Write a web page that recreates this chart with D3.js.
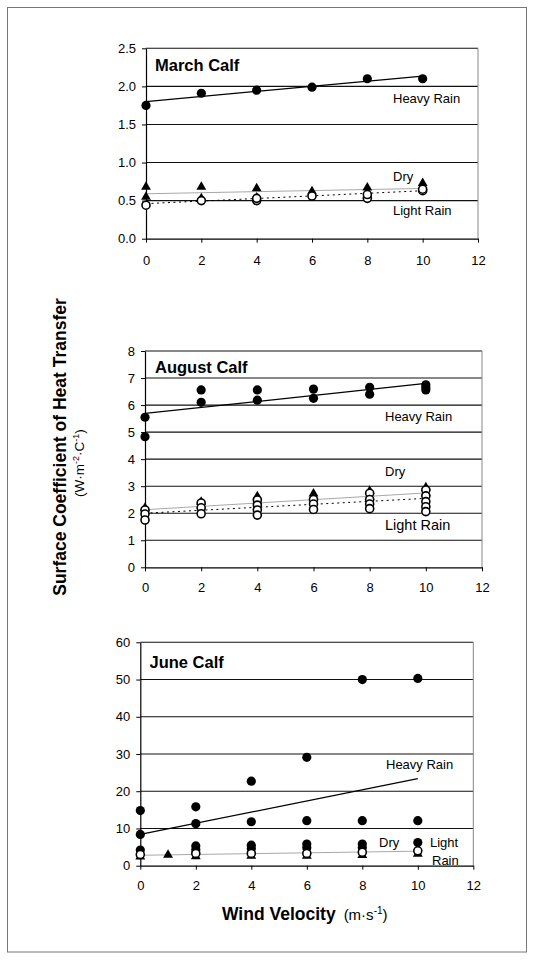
<!DOCTYPE html>
<html><head><meta charset="utf-8">
<script src="https://cdn.jsdelivr.net/npm/d3@7"></script>
<style>html,body{margin:0;padding:0;background:#fff;} svg{display:block;font-family:"Liberation Sans",Arial,sans-serif;}</style>
</head><body><svg id="c" width="534" height="961"></svg>
<script>
// ---------- data ----------
const xTickValues = [0, 2, 4, 6, 8, 10, 12];
const marchYTicks = [0, 0.5, 1.0, 1.5, 2.0, 2.5];
const augustYTicks = [0, 1, 2, 3, 4, 5, 6, 7, 8];
const juneYTicks = [0, 10, 20, 30, 40, 50, 60];

const marchHeavy = [[0,1.75],[2,1.91],[4,1.95],[6,1.99],[8,2.10],[10,2.10]];
const marchDry = [[0,0.68],[0,0.55],[2,0.68],[2,0.53],[4,0.66],[4,0.54],[6,0.62],[8,0.67],[8,0.57],[10,0.73]];
const marchLight = [[0,0.44],[2,0.50],[4,0.50],[4,0.53],[6,0.56],[8,0.53],[8,0.58],[10,0.63],[10,0.65]];
const marchTrendHeavy = [[0,1.80],[10,2.135]];
const marchTrendDry = [[0,0.59],[10,0.66]];
const marchTrendLight = [[0,0.46],[10,0.63]];

const augustHeavy = [[0,5.55],[0,4.83],[2,6.56],[2,6.10],[4,6.56],[4,6.18],[6,6.59],[6,6.25],[8,6.66],[8,6.40],[10,6.75],[10,6.65],[10,6.56]];
const augustDry = [[0,2.20],[2,2.42],[4,2.62],[4,2.45],[6,2.72],[6,2.55],[8,2.82],[8,2.60],[10,2.95],[10,2.75]];
const augustLight = [[0,2.12],[0,1.97],[0,1.75],[2,2.38],[2,2.20],[2,1.98],[4,2.49],[4,2.30],[4,2.12],[4,1.93],[6,2.51],[6,2.34],[6,2.14],[8,2.74],[8,2.51],[8,2.34],[8,2.17],[10,2.86],[10,2.64],[10,2.43],[10,2.24],[10,2.06]];
const augustTrendHeavy = [[0,5.69],[10,6.80]];
const augustTrendDry = [[0,2.13],[10,2.75]];
const augustTrendLight = [[0,2.00],[10,2.55]];

const juneHeavy = [[0,14.8],[0,8.4],[0,4.2],[2,15.8],[2,11.3],[2,5.3],[2,4.3],[4,22.7],[4,11.8],[4,5.5],[4,4.6],[6,29.1],[6,12.1],[6,5.8],[6,4.8],[8,50.0],[8,12.1],[8,5.8],[8,4.8],[10,50.3],[10,12.1],[10,6.2]];
const juneDry = [[0,2.4],[1,2.9],[2,2.5],[4,2.6],[6,2.6],[8,2.8],[10,3.2]];
const juneLight = [[0,3.0],[2,3.3],[4,3.3],[6,3.3],[8,3.6],[10,4.0]];
const juneTrendHeavy = [[0,8.4],[10,23.4]];
const juneTrendDry = [[0,2.8],[10,3.9]];

// ---------- drawing ----------
const svg = d3.select("#c");
svg.append("rect").attr("x",7.5).attr("y",7.5).attr("width",519).attr("height",944.5)
  .attr("fill","none").attr("stroke","#777").attr("stroke-width",1);

const panels = [
  {title:"March Calf", left:146, right:478, top:48.3, bottom:238.7, ymax:2.5, yTicks:marchYTicks, fmt:d3.format(".1f"),
   heavy:marchHeavy, dry:marchDry, light:marchLight, tH:marchTrendHeavy, tD:marchTrendDry, tL:marchTrendLight,
   titlePos:[155,71], xPad:13,
   labels:[{t:"Heavy Rain",x:393,y:103,s:13},{t:"Dry",x:393,y:181,s:13},{t:"Light Rain",x:393,y:214.5,s:13}]},
  {title:"August Calf", left:145, right:482, top:351, bottom:567.3, ymax:8, yTicks:augustYTicks, fmt:d3.format("d"),
   heavy:augustHeavy, dry:augustDry, light:augustLight, tH:augustTrendHeavy, tD:augustTrendDry, tL:augustTrendLight,
   titlePos:[155,372.5], xPad:11.5,
   labels:[{t:"Heavy Rain",x:385,y:420.6,s:13},{t:"Dry",x:385,y:475.6,s:13},{t:"Light Rain",x:385,y:529.5,s:14.5}]},
  {title:"June Calf", left:140.3, right:473.3, top:642.3, bottom:865.7, ymax:60, yTicks:juneYTicks, fmt:d3.format("d"),
   heavy:juneHeavy, dry:juneDry, light:juneLight, tH:juneTrendHeavy, tD:juneTrendDry, tL:null,
   titlePos:[149.5,667.5], xPad:11.5,
   labels:[{t:"Heavy Rain",x:386,y:768.8,s:13},{t:"Dry",x:379,y:846.5,s:13},{t:"Light",x:430,y:847,s:13},{t:"Rain",x:432,y:864.5,s:13}]}
];

panels.forEach(p => {
  const x = d3.scaleLinear().domain([0,12]).range([p.left, p.right]);
  const y = d3.scaleLinear().domain([0,p.ymax]).range([p.bottom, p.top]);
  const g = svg.append("g");

  // gridlines
  g.selectAll("line.grid").data(p.yTicks.filter(d => d > 0)).join("line").attr("class","grid")
    .attr("x1", p.left).attr("x2", p.right).attr("y1", d => y(d)).attr("y2", d => y(d))
    .attr("stroke", "#111").attr("stroke-width", 1.1);
  // right border
  g.append("line").attr("x1", p.right).attr("x2", p.right).attr("y1", p.top).attr("y2", p.bottom)
    .attr("stroke", "#888").attr("stroke-width", 1);

  // axes
  const ya = d3.axisLeft(y).tickValues(p.yTicks).tickFormat(p.fmt).tickSize(4).tickSizeOuter(0).tickPadding(6);
  const yg = g.append("g").attr("transform", `translate(${p.left},0)`).call(ya);
  const xa = d3.axisBottom(x).tickValues(xTickValues).tickFormat(d3.format("d")).tickSize(4).tickSizeOuter(0).tickPadding(p.xPad);
  const xg = g.append("g").attr("transform", `translate(0,${p.bottom})`).call(xa);
  [yg, xg].forEach(a => {
    a.selectAll("path.domain").attr("stroke", "#000").attr("stroke-width", 1.2);
    a.selectAll(".tick line").attr("stroke", "#000").attr("stroke-width", 1);
    a.selectAll(".tick text").attr("font-family", '"Liberation Sans",Arial,sans-serif').attr("font-size", 13).attr("fill", "#000");
  });

  // trendlines
  const line = d3.line().x(d => x(d[0])).y(d => y(d[1]));
  g.append("path").attr("d", line(p.tD)).attr("fill","none").attr("stroke","#a8a8a8").attr("stroke-width",1);
  if (p.tL) g.append("path").attr("d", line(p.tL)).attr("fill","none").attr("stroke","#000").attr("stroke-width",1).attr("stroke-dasharray","2,3.5");
  g.append("path").attr("d", line(p.tH)).attr("fill","none").attr("stroke","#000").attr("stroke-width",1.3);

  // markers
  g.selectAll("circle.heavy").data(p.heavy).join("circle").attr("class","heavy")
    .attr("cx", d => x(d[0])).attr("cy", d => y(d[1])).attr("r", 4.6).attr("fill", "#000");
  const tri = d3.symbol().type(d3.symbolTriangle).size(42);
  g.selectAll("path.dry").data(p.dry).join("path").attr("class","dry")
    .attr("d", tri).attr("transform", d => `translate(${x(d[0])},${y(d[1])})`).attr("fill", "#000");
  g.selectAll("circle.light").data(p.light).join("circle").attr("class","light")
    .attr("cx", d => x(d[0])).attr("cy", d => y(d[1])).attr("r", 4).attr("fill", "#fff")
    .attr("stroke", "#000").attr("stroke-width", 1.6);

  // title
  g.append("text").attr("x", p.titlePos[0]).attr("y", p.titlePos[1]).attr("font-size", 16.5)
    .attr("font-weight", "bold").text(p.title);
  // series labels
  g.selectAll("text.lab").data(p.labels).join("text").attr("class","lab")
    .attr("x", d => d.x).attr("y", d => d.y).attr("font-size", d => d.s).text(d => d.t);
});

// y-axis title
const yt = svg.append("g").attr("transform", "translate(66,447) rotate(-90)");
yt.append("text").attr("text-anchor","middle").attr("font-weight","bold").attr("font-size",17.5)
  .text("Surface Coefficient of Heat Transfer");
const yt2 = svg.append("g").attr("transform", "translate(84,463) rotate(-90)");
const t2 = yt2.append("text").attr("text-anchor","middle").attr("font-size",13.5);
t2.append("tspan").text("(W·m");
t2.append("tspan").attr("dy",-5.5).attr("font-size",9).text("-2");
t2.append("tspan").attr("dy",5.5).text("·C");
t2.append("tspan").attr("dy",-5.5).attr("font-size",9).text("-1");
t2.append("tspan").attr("dy",5.5).text(")");

// x-axis title
const xt = svg.append("text").attr("x",222).attr("y",920);
xt.append("tspan").attr("font-weight","bold").attr("font-size",17.5).text("Wind Velocity");
xt.append("tspan").attr("font-size",15).attr("dx",8).text("(m·s");
xt.append("tspan").attr("font-size",10).attr("dy",-6).text("-1");
xt.append("tspan").attr("font-size",15).attr("dy",6).text(")");
</script></body></html>
